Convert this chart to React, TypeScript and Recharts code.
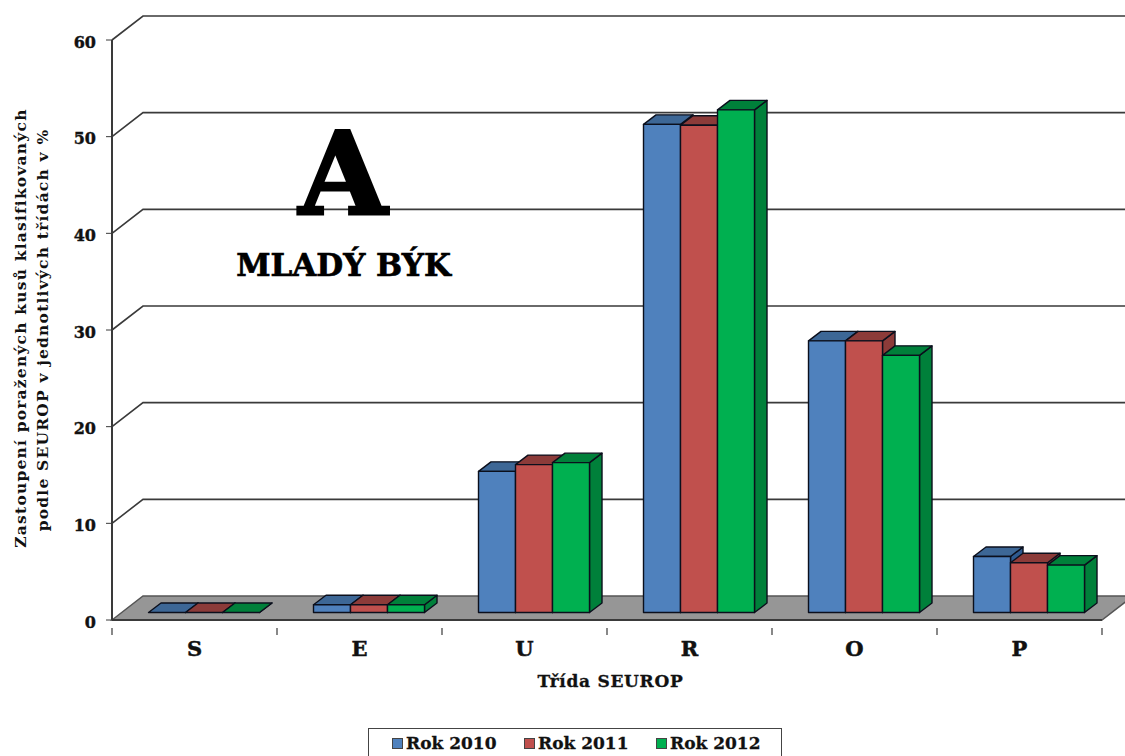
import React from "react";
import { BarChart, Bar, XAxis, YAxis, CartesianGrid, Legend } from "recharts";

const categories = ["S", "E", "U", "R", "O", "P"];
const rok2010 = [0, 0.8, 14.6, 50.5, 28.1, 5.8];
const rok2011 = [0, 0.8, 15.3, 50.4, 28.1, 5.15];
const rok2012 = [0, 0.8, 15.5, 52, 26.6, 4.9];
const yTicks = [0, 10, 20, 30, 40, 50, 60];

const chartData = categories.map((name, i) => ({
  name,
  a: rok2010[i],
  b: rok2011[i],
  c: rok2012[i],
}));

const FONT = "'DejaVu Serif', serif";
const INK = "#111";
const LINE = "#3a3a3a";
const PLOT_BOTTOM = 620;
// depth of the floor and of the bars
const WALL_DX = 31;
const WALL_DY = 24;
const BAR_DX = 9;
const BAR_DY = 7.5;
const DEPTH_X = 12.5;
const DEPTH_Y = 9.5;

const poly = (pts: number[][]) => pts.map((p) => p.join(",")).join(" ");

// 3D column: front, side and top faces
const makeBar = (topFill: string, sideFill: string) => (props: any) => {
  const { x, y, width, height, fill } = props;
  const l = x + BAR_DX;
  const r = l + width;
  const t = y - BAR_DY;
  const b = t + height;
  const stroke = { stroke: "#0b0f1c", strokeWidth: 1.4, strokeLinejoin: "round" as const };
  return (
    <g>
      <polygon points={poly([[r, t], [r + DEPTH_X, t - DEPTH_Y], [r + DEPTH_X, b - DEPTH_Y], [r, b]])} fill={sideFill} {...stroke} />
      <polygon points={poly([[l, t], [l + DEPTH_X, t - DEPTH_Y], [r + DEPTH_X, t - DEPTH_Y], [r, t]])} fill={topFill} {...stroke} />
      <rect x={l} y={t} width={width} height={height} fill={fill} {...stroke} />
    </g>
  );
};

// grid lines run along the side wall, then across the back; zero is the floor
const GridLine = (props: any) => {
  const { x1, x2, y1 } = props;
  if (Math.abs(y1 - PLOT_BOTTOM) < 1) {
    return (
      <polygon
        points={poly([[x1, y1], [x1 + WALL_DX, y1 - WALL_DY], [x2 + WALL_DX, y1 - WALL_DY], [x2, y1]])}
        fill="#969696"
        stroke="#555"
        strokeWidth={1.5}
      />
    );
  }
  return (
    <polyline
      points={poly([[x1, y1], [x1 + WALL_DX, y1 - WALL_DY], [x2 + WALL_DX, y1 - WALL_DY]])}
      fill="none"
      stroke={LINE}
      strokeWidth={1.6}
    />
  );
};

const CategoryTick = (props: any) => {
  const { x, y, index, payload } = props;
  const half = 82.5;
  return (
    <g>
      <line x1={x - half} x2={x - half} y1={y} y2={y + 7} stroke={LINE} strokeWidth={1.2} />
      {index === categories.length - 1 && (
        <line x1={x + half} x2={x + half} y1={y} y2={y + 7} stroke={LINE} strokeWidth={1.2} />
      )}
      <text x={x} y={656} textAnchor="middle" fontFamily={FONT} fontWeight="bold" fontSize={21} fill={INK} stroke={INK} strokeWidth={0.5}>
        {payload.value}
      </text>
    </g>
  );
};

const LegendBox = ({ payload }: any) => (
  <div
    style={{
      display: "flex",
      boxSizing: "border-box",
      height: 30,
      border: "1px solid #444",
      background: "#fff",
      paddingLeft: 23,
      alignItems: "center",
      fontFamily: FONT,
      fontWeight: "bold",
      fontSize: 17,
      color: INK,
      WebkitTextStroke: "0.3px #111",
    }}
  >
    {(payload || []).map((p: any) => (
      <div key={p.value} style={{ display: "flex", alignItems: "center", width: 132, flexShrink: 0 }}>
        <span
          style={{
            display: "inline-block",
            boxSizing: "border-box",
            width: 11,
            height: 11,
            marginRight: 3,
            background: p.color,
            border: "1px solid #444",
          }}
        />
        {p.value}
      </div>
    ))}
  </div>
);

export default function App() {
  return (
    <div style={{ position: "absolute", left: 0, top: 0, width: 1125, height: 756, background: "#fff", overflow: "hidden" }}>
      <BarChart
        width={1125}
        height={756}
        data={chartData}
        margin={{ top: 40, right: 23, bottom: 0, left: 0 }}
        barCategoryGap="16.67%"
        barGap={0}
      >
        <CartesianGrid vertical={false} horizontal={GridLine} />
        <XAxis
          dataKey="name"
          height={136}
          interval={0}
          tickLine={false}
          tick={CategoryTick}
          axisLine={{ stroke: LINE, strokeWidth: 2 }}
        />
        <YAxis
          width={112}
          domain={[0, 60]}
          ticks={yTicks}
          tickSize={6}
          tickMargin={10}
          tickLine={{ stroke: LINE }}
          axisLine={{ stroke: LINE, strokeWidth: 2 }}
          tick={{ fontFamily: FONT, fontWeight: "bold", fontSize: 16, fill: INK, stroke: INK, strokeWidth: 0.4, dy: 2 }}
        />
        <Bar dataKey="a" name="Rok 2010" fill="#4F81BD" shape={makeBar("#3D6796", "#2E5A8F")} isAnimationActive={false} />
        <Bar dataKey="b" name="Rok 2011" fill="#C0504D" shape={makeBar("#8C3B39", "#8C3B39")} isAnimationActive={false} />
        <Bar dataKey="c" name="Rok 2012" fill="#00B050" shape={makeBar("#00803A", "#00803A")} isAnimationActive={false} />
        <Legend
          verticalAlign="middle"
          content={LegendBox}
          wrapperStyle={{ left: 368, top: 728, width: 414, height: 30 }}
        />
        <text x={343} y={214} textAnchor="middle" fontFamily={FONT} fontWeight="bold" fontSize={114} fill="#000" stroke="#000" strokeWidth={3}>A</text>
        <text x={343.5} y={276} textAnchor="middle" fontFamily={FONT} fontWeight="bold" fontSize={31} fill="#000" stroke="#000" strokeWidth={0.7}>MLADÝ BÝK</text>
        <text x={610.5} y={687} textAnchor="middle" fontFamily={FONT} fontWeight="bold" fontSize={17} letterSpacing={0.7} fill={INK} stroke={INK} strokeWidth={0.3}>Třída SEUROP</text>
        <text transform="translate(26,328) rotate(-90)" textAnchor="middle" fontFamily={FONT} fontWeight="bold" fontSize={15.5} letterSpacing={1.2} fill={INK}>
          Zastoupení poražených  kusů klasifikovaných
        </text>
        <text transform="translate(48,330) rotate(-90)" textAnchor="middle" fontFamily={FONT} fontWeight="bold" fontSize={15.5} letterSpacing={1.2} fill={INK}>
          podle SEUROP v jednotlivých třídách v %
        </text>
      </BarChart>
    </div>
  );
}
